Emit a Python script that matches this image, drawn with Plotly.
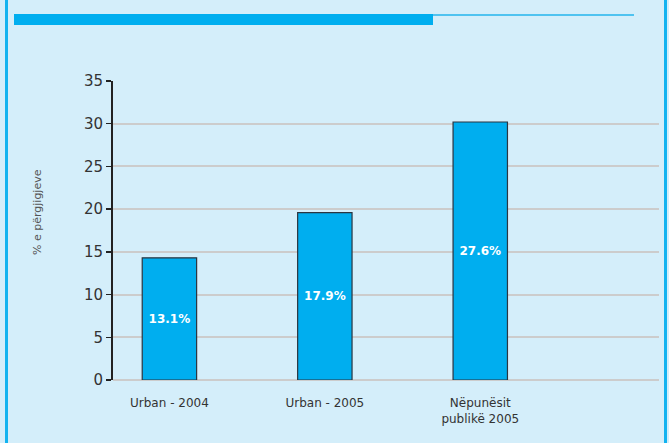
import plotly.graph_objects as go

categories = ["Urban - 2004", "Urban - 2005", "Nëpunësit<br>publikë 2005"]
bar_heights = [14.3, 19.6, 30.2]
bar_labels = ["13.1%", "17.9%", "27.6%"]
y_ticks = [0, 5, 10, 15, 20, 25, 30, 35]
y_title = "% e përgjigjeve"

W, H = 669, 443
ML, MR, MT, MB = 113, 10, 81, 63
BG = "#D4EEFA"
BLUE = "#00AEEF"
FONT = "DejaVu Sans"

fig = go.Figure(go.Bar(
    x=[0, 1, 2], y=bar_heights, text=bar_labels,
    textposition="inside", insidetextanchor="middle",
    textfont=dict(color="white", size=12, family=FONT, weight="bold"),
    marker=dict(color=BLUE, line=dict(color="#2B3540", width=1.2)),
    width=0.35, hoverinfo="skip",
))

pw = W - ML - MR
ph = H - MT - MB
def px(x):
    return (x - ML) / pw
def py(y):
    return (H - MB - y) / ph

shapes = [
    dict(type="rect", xref="paper", yref="paper", x0=px(14), x1=px(433), y0=py(25), y1=py(14),
         fillcolor=BLUE, line=dict(width=0), layer="above"),
    dict(type="line", xref="paper", yref="paper", x0=px(433), x1=px(634), y0=py(15), y1=py(15),
         line=dict(color="#4FC3F0", width=2)),
    dict(type="line", xref="paper", yref="paper", x0=px(6.5), x1=px(6.5), y0=py(0), y1=py(H),
         line=dict(color="#12B3F0", width=3)),
    dict(type="line", xref="paper", yref="paper", x0=px(665.5), x1=px(665.5), y0=py(0), y1=py(H),
         line=dict(color="#12B3F0", width=3)),
]

fig.update_layout(
    width=W, height=H,
    margin=dict(l=ML, r=MR, t=MT, b=MB),
    paper_bgcolor=BG, plot_bgcolor=BG,
    font=dict(family=FONT, color="#333333"),
    showlegend=False,
    shapes=shapes,
    annotations=[dict(
        text=y_title, xref="paper", yref="paper", x=px(37), y=py(212),
        textangle=-90, showarrow=False, xanchor="center", yanchor="middle",
        font=dict(size=11, color="#555555", family=FONT),
    )],
    xaxis=dict(
        range=[-0.363, 3.15], tickmode="array", tickvals=[0, 1, 2], ticktext=categories,
        showline=False, showgrid=False, zeroline=False,
        ticks="outside", ticklen=12, tickcolor="rgba(0,0,0,0)",
        tickfont=dict(size=12, color="#333333"),
    ),
    yaxis=dict(
        range=[0, 35], tickmode="array", tickvals=y_ticks,
        showline=True, linecolor="#222222", linewidth=2,
        ticks="outside", ticklen=5, tickcolor="#222222", tickwidth=1.5,
        showgrid=True, gridcolor="#CCCCCC", gridwidth=2,
        zeroline=True, zerolinecolor="#CCCCCC", zerolinewidth=2,
        tickfont=dict(size=15, color="#333333"),
    ),
)

fig.write_html(
    "out.html",
    config={"displayModeBar": False, "staticPlot": True},
    post_script="document.body.style.margin='0';document.body.style.overflow='hidden';",
)
